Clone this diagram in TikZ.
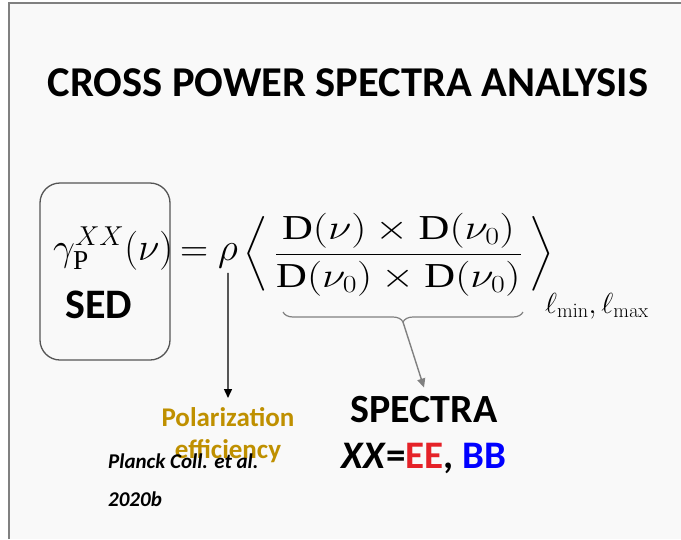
\documentclass[tikz,border=0pt]{standalone}
\usepackage{fix-cm}
\usepackage{amsmath}
\usepackage[no-math]{fontspec}
\setmainfont{Carlito}
\newfontfamily\tnr{Liberation Serif}
\usetikzlibrary{arrows.meta,decorations.pathreplacing}
\definecolor{bgcol}{HTML}{F9F9F9}
\definecolor{framecol}{HTML}{808080}
\definecolor{boxcol}{HTML}{555555}
\definecolor{polcol}{HTML}{BF9000}
\definecolor{eered}{HTML}{E52228}
\definecolor{bbblue}{HTML}{0000FF}
\newcommand{\Dfun}{\text{\tnr D}}
\begin{document}
\begin{tikzpicture}[x=1pt,y=-1pt,
  txt/.style={inner sep=0pt,anchor=base},
  formula/.style={inner sep=0pt,anchor=base west},
  arr/.style={-{Triangle[length=9pt,width=8pt]},line width=1.4pt}]
	\useasboundingbox (0,0) rectangle (681,539);
	\fill[white] (0,0) rectangle (681,539);
	\fill[bgcol] (9,3) rectangle (681,539);
	\draw[framecol,line width=1.6pt] (9,539) -- (9,3) -- (681,3);
	\node[txt,font=\fontsize{42.5}{50}\bfseries] (title) at (348,96) {CROSS POWER SPECTRA ANALYSIS};
	% SED box and left side
	\node[draw=boxcol,line width=1.3pt,rounded corners=20pt,minimum width=130pt,minimum height=177pt] (sedbox) at (105,271.5) {};
	\node[formula,font=\fontsize{39}{46}\selectfont] (gam) at (53,260) {$\gamma^{XX}_{\text{\tnr P}}(\nu)$};
	\node[txt,font=\fontsize{42}{48}\bfseries] (sed) at (99,318) {SED};
	\node[formula,font=\fontsize{39}{46}\selectfont] (eq) at (180,261) {$=$};
	\node[formula,font=\fontsize{39}{46}\selectfont] (rho) at (218,260) {$\rho$};
	\node[formula,font=\fontsize{35}{42}\selectfont] (ratio) at (243,263) {\scalebox{1.22}[1]{$\delimiterfactor=1000\delimitershortfall=0pt
	  \left\langle\vcenter{\hrule height 100pt width 0pt}\,\dfrac{\Dfun(\nu)\times\Dfun(\nu_0)}{\Dfun(\nu_0)\times\Dfun(\nu_0)}\,\right\rangle$}};
	\node[formula,font=\fontsize{29}{35}\selectfont] (lims) at (545,313) {$\ell_{\min},\ell_{\max}$};
	% brace under the ratio
	\draw[framecol,line width=1.2pt,decorate,decoration={brace,mirror,amplitude=10pt}] (283,312) -- (523,312);
	\coordinate (bt) at (403,322);
	% labels
	\node[inner sep=0pt,anchor=north,align=center,text=polcol,font=\fontsize{27}{32}\bfseries] (pol) at (228,407) {Polarization\\efficiency};
	\node[formula,align=left,font=\fontsize{21}{38}\bfseries\itshape] (ref) at (108,506) {Planck Coll. et al.\\2020b};
	\node[txt,font=\fontsize{40}{46}\bfseries] (spectra) at (424,422) {SPECTRA};
	\node[txt,font=\fontsize{39}{44}\bfseries] (xx) at (424,468) {\textit{XX}=\textcolor{eered}{EE}, \textcolor{bbblue}{BB}};
	% arrows
	\draw[arr] (rho.south) ++(0,5) -- ([yshift=9pt]pol.north);
	\draw[arr,framecol] (bt) -- ([yshift=8pt]spectra.north);
\end{tikzpicture}
\end{document}
